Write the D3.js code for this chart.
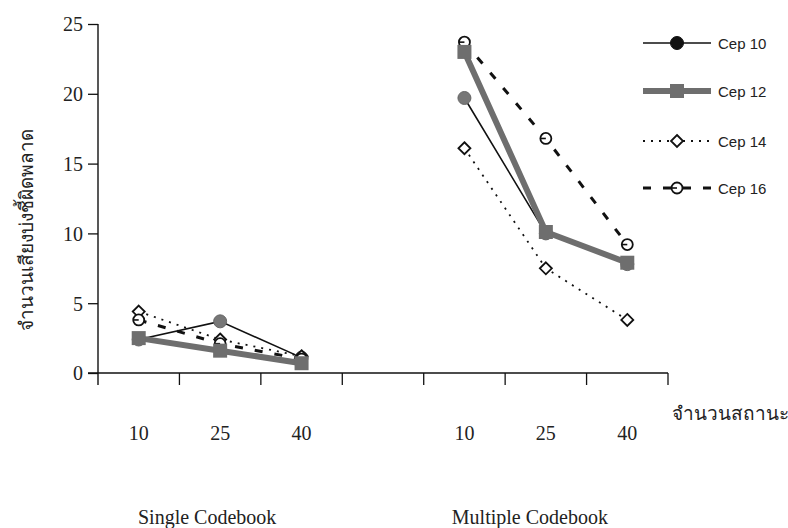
<!DOCTYPE html>
<html>
<head>
<meta charset="utf-8">
<script src="https://cdn.jsdelivr.net/npm/d3@7/dist/d3.min.js"></script>
<style>
  html, body { margin: 0; padding: 0; background: #fff; }
  svg { display: block; }
  .serif { font-family: "Liberation Serif", "DejaVu Serif", serif; fill: #222; }
  .sans { font-family: "Liberation Sans", Arial, sans-serif; fill: #222; }
</style>
</head>
<body>
<svg id="chart" width="788" height="528"></svg>
<script>
// Slots along the x axis: three state counts per codebook type, with an empty gap between them
const slots = ["S10", "S25", "S40", "gap", "M10", "M25", "M40"];
const stateLabels = ["10", "25", "40", "", "10", "25", "40"];
const codebooks = ["Single Codebook", "Multiple Codebook"];
const singleSlots = ["S10", "S25", "S40"];
const multipleSlots = ["M10", "M25", "M40"];
const yTicks = [0, 5, 10, 15, 20, 25];

// Error counts per cepstral order (single codebook then multiple codebook)
const cep10 = [2.4, 3.7, 1.1, 19.7, 10.0, 7.8];
const cep12 = [2.5, 1.6, 0.7, 23.0, 10.1, 7.9];
const cep14 = [4.4, 2.4, 1.2, 16.1, 7.5, 3.8];
const cep16 = [3.8, 2.1, 1.0, 23.7, 16.8, 9.2];
const seriesNames = ["Cep 10", "Cep 12", "Cep 14", "Cep 16"];

const svg = d3.select("#chart");

const x = d3.scaleBand().domain(slots).range([98, 668]).paddingInner(0).paddingOuter(0);
const y = d3.scaleLinear().domain([0, 25]).range([373, 24]);
const cx = s => x(s) + x.bandwidth() / 2;

// y axis
const yAxis = d3.axisLeft(y).tickValues(yTicks).tickSize(10).tickSizeOuter(0).tickPadding(5);
const gy = svg.append("g").attr("transform", "translate(98,0)").call(yAxis);
gy.select(".domain").remove();
gy.selectAll(".tick line").attr("stroke", "#111").attr("stroke-width", 1.3);
gy.selectAll(".tick text").attr("class", "serif").style("font-size", "20px")
  .attr("fill", "#222").attr("dy", "0.34em");
svg.append("line").attr("x1", 98).attr("x2", 98).attr("y1", y(25)).attr("y2", 385)
  .attr("stroke", "#111").attr("stroke-width", 1.4);

// x axis with ticks on slot boundaries
svg.append("line").attr("x1", 88).attr("x2", 668).attr("y1", y(0)).attr("y2", y(0))
  .attr("stroke", "#111").attr("stroke-width", 1.4);
svg.append("g").selectAll("line").data(slots).join("line")
  .attr("x1", d => x(d) + x.bandwidth()).attr("x2", d => x(d) + x.bandwidth())
  .attr("y1", y(0)).attr("y2", y(0) + 12)
  .attr("stroke", "#111").attr("stroke-width", 1.3);

// state count labels
svg.append("g").selectAll("text").data(slots).join("text")
  .attr("class", "serif").attr("x", d => cx(d)).attr("y", 440)
  .attr("text-anchor", "middle").style("font-size", "20px")
  .text((d, i) => stateLabels[i]);

svg.append("text").attr("class", "serif").attr("x", 672).attr("y", 420)
  .style("font-size", "19px").text("จำนวนสถานะ");

// codebook group labels, centred under each group
const groupCenters = [d3.mean(singleSlots, cx), d3.mean(multipleSlots, cx)];
svg.append("g").selectAll("text").data(codebooks).join("text")
  .attr("class", "serif").attr("x", (d, i) => groupCenters[i] - (i === 0 ? 13 : 16)).attr("y", 524)
  .attr("text-anchor", "middle").style("font-size", "20px").text(d => d);

// y axis title
svg.append("text").attr("class", "serif")
  .attr("transform", "translate(33,230) rotate(-90)")
  .attr("text-anchor", "middle").style("font-size", "19px")
  .text("จำนวนเสียงบ่งชี้ผิดพลาด");

// series styling
const styles = [
  { values: cep10, stroke: "#111", width: 1.6, dash: null, marker: "circle" },
  { values: cep12, stroke: "#6e6e6e", width: 6, dash: null, marker: "square" },
  { values: cep14, stroke: "#111", width: 1.8, dash: "2,6", marker: "diamond" },
  { values: cep16, stroke: "#111", width: 3, dash: "8,12", marker: "ocircle" }
];

function drawMarker(g, type, px, py, legend) {
  if (type === "circle") {
    g.append("circle").attr("cx", px).attr("cy", py).attr("r", 6.5)
      .attr("fill", legend ? "#111" : "#777").attr("stroke", legend ? "#111" : "#666");
  } else if (type === "square") {
    g.append("rect").attr("x", px - 7).attr("y", py - 7).attr("width", 14).attr("height", 14)
      .attr("fill", "#6e6e6e");
  } else if (type === "diamond") {
    g.append("path").attr("d", `M${px},${py - 6}L${px + 6},${py}L${px},${py + 6}L${px - 6},${py}Z`)
      .attr("fill", "#fff").attr("stroke", "#111").attr("stroke-width", 1.8);
  } else if (type === "ocircle") {
    g.append("circle").attr("cx", px).attr("cy", py).attr("r", 5.5)
      .attr("fill", "#fff").attr("stroke", "#111").attr("stroke-width", 1.8);
    g.append("line").attr("x1", px - 5.5).attr("x2", px).attr("y1", py).attr("y2", py)
      .attr("stroke", "#111").attr("stroke-width", 1.6);
  }
}

const line = d3.line().x(d => cx(d.slot)).y(d => y(d.v));
const plot = svg.append("g");
// lines first, then markers on top
const drawOrder = [0, 2, 3, 1];
drawOrder.forEach(si => {
  const s = styles[si];
  [singleSlots, multipleSlots].forEach((grp, gi) => {
    const pts = grp.map((slot, k) => ({ slot, v: s.values[gi * 3 + k] }));
    plot.append("path").datum(pts).attr("d", line)
      .attr("fill", "none").attr("stroke", s.stroke).attr("stroke-width", s.width)
      .attr("stroke-dasharray", s.dash);
  });
});
drawOrder.forEach(si => {
  const s = styles[si];
  [singleSlots, multipleSlots].forEach((grp, gi) => {
    grp.forEach((slot, k) => drawMarker(plot, s.marker, cx(slot), y(s.values[gi * 3 + k]), false));
  });
});

// legend
const legendY = [43, 91, 141, 188];
const lg = svg.append("g");
styles.forEach((s, i) => {
  lg.append("line").attr("x1", 643).attr("x2", 711).attr("y1", legendY[i]).attr("y2", legendY[i])
    .attr("stroke", s.stroke).attr("stroke-width", s.width)
    .attr("stroke-dasharray", s.dash);
  drawMarker(lg, s.marker, 677, legendY[i], true);
  lg.append("text").attr("class", "sans").attr("x", 718).attr("y", legendY[i] + 6)
    .style("font-size", "15px").text(seriesNames[i]);
});
</script>
</body>
</html>
